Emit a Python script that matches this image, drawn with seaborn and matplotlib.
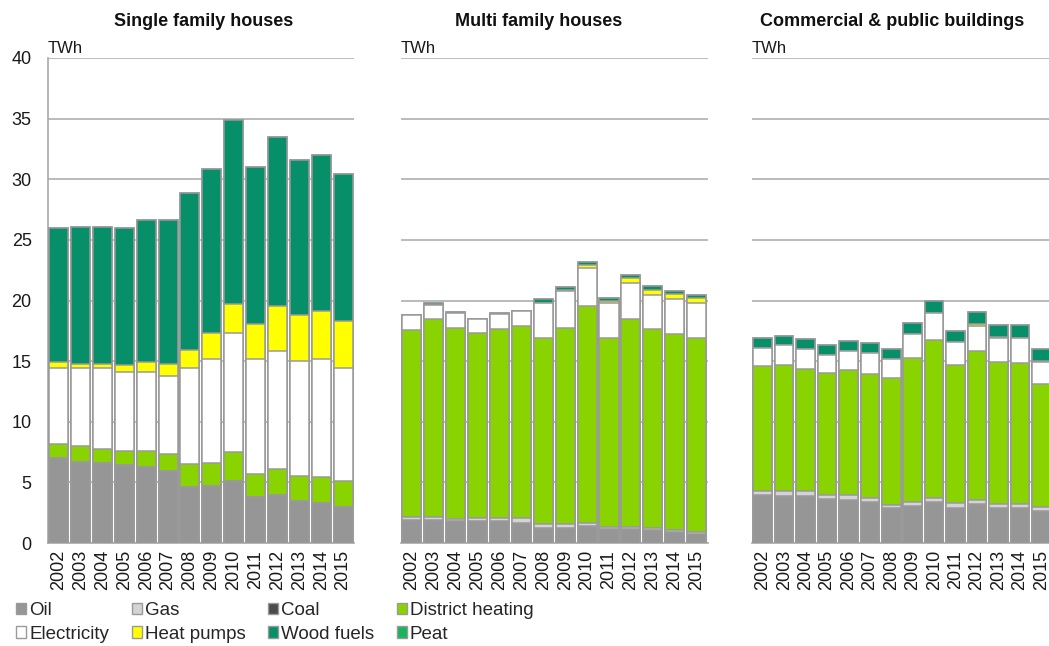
import numpy as np
import pandas as pd
import matplotlib
matplotlib.use("Agg")
import matplotlib.pyplot as plt
from matplotlib.patches import Patch
import seaborn as sns

# ---------------------------
# Data (TWh)
# ---------------------------
years = [str(y) for y in range(2002, 2016)]

# Single family houses
sfh_oil = [7.0, 6.7, 6.6, 6.4, 6.3, 5.95, 4.6, 4.7, 5.1, 3.8, 4.0, 3.5, 3.3, 3.0]
sfh_gas = [0.0] * 14
sfh_coal = [0.0] * 14
sfh_dh = [1.15, 1.28, 1.19, 1.17, 1.27, 1.4, 1.88, 1.88, 2.39, 1.86, 2.09, 2.05, 2.14, 2.11]
sfh_elec = [6.3, 6.47, 6.61, 6.56, 6.56, 6.45, 7.97, 8.56, 9.86, 9.48, 9.78, 9.5, 9.7, 9.34]
sfh_hp = [0.5, 0.35, 0.4, 0.54, 0.82, 1.0, 1.48, 2.16, 2.4, 2.95, 3.67, 3.72, 3.96, 3.83]
sfh_wood = [11.05, 11.3, 11.3, 11.33, 11.73, 11.88, 12.92, 13.58, 15.17, 12.9, 13.98, 12.83, 12.93, 12.19]
sfh_peat = [0.0] * 14

# Multi family houses
mfh_oil = [1.92, 1.92, 1.8, 1.8, 1.8, 1.67, 1.26, 1.26, 1.37, 1.12, 1.12, 1.04, 0.88, 0.77]
mfh_gas = [0.22, 0.22, 0.2, 0.23, 0.23, 0.36, 0.27, 0.27, 0.27, 0.2, 0.2, 0.16, 0.19, 0.16]
mfh_coal = [0.0] * 14
mfh_dh = [15.39, 16.3, 15.75, 15.29, 15.61, 15.83, 15.35, 16.22, 17.92, 15.56, 17.12, 16.47, 16.13, 15.95]
mfh_elec = [1.24, 1.23, 1.24, 1.12, 1.24, 1.24, 2.9, 3.04, 3.15, 2.9, 3.04, 2.8, 2.91, 2.9]
mfh_hp = [0, 0, 0, 0, 0, 0, 0.05, 0.05, 0.2, 0.15, 0.35, 0.4, 0.4, 0.4]
mfh_wood = [0.05, 0.1, 0.1, 0.06, 0.1, 0.05, 0.3, 0.3, 0.3, 0.3, 0.25, 0.3, 0.3, 0.3]
mfh_peat = [0.0] * 14

# Commercial & public buildings
cpb_oil = [4.0, 3.89, 3.89, 3.64, 3.53, 3.42, 2.88, 3.07, 3.42, 2.88, 3.2, 2.88, 2.88, 2.66]
cpb_gas = [0.3, 0.36, 0.36, 0.36, 0.47, 0.31, 0.22, 0.35, 0.31, 0.44, 0.33, 0.3, 0.3, 0.27]
cpb_coal = [0.0] * 14
cpb_dh = [10.3, 10.46, 10.13, 10.03, 10.27, 10.19, 10.49, 11.87, 13.04, 11.36, 12.31, 11.78, 11.64, 10.19]
cpb_elec = [1.45, 1.59, 1.59, 1.47, 1.59, 1.72, 1.56, 1.94, 2.16, 1.87, 2.05, 1.92, 2.06, 1.78]
cpb_hp = [0, 0, 0, 0, 0, 0, 0, 0, 0, 0, 0.15, 0.12, 0, 0.12]
cpb_wood = [0.85, 0.74, 0.82, 0.86, 0.82, 0.83, 0.88, 0.93, 0.99, 0.9, 1.0, 0.95, 1.07, 0.95]
cpb_peat = [0.0] * 14

sources = ["Oil", "Gas", "Coal", "District heating", "Electricity",
           "Heat pumps", "Wood fuels", "Peat"]
colors = ["#969696", "#d4d4d4", "#4a4a4a", "#88d300", "#ffffff",
          "#ffff00", "#068f68", "#19b45c"]

panels = [
    ("Single family houses",
     [sfh_oil, sfh_gas, sfh_coal, sfh_dh, sfh_elec, sfh_hp, sfh_wood, sfh_peat]),
    ("Multi family houses",
     [mfh_oil, mfh_gas, mfh_coal, mfh_dh, mfh_elec, mfh_hp, mfh_wood, mfh_peat]),
    ("Commercial & public buildings",
     [cpb_oil, cpb_gas, cpb_coal, cpb_dh, cpb_elec, cpb_hp, cpb_wood, cpb_peat]),
]

# ---------------------------
# Figure setup
# ---------------------------
sns.set_theme(style="white")
plt.rcParams["font.family"] = ["Liberation Sans", "DejaVu Sans"]

W, H = 1049, 646
fig = plt.figure(figsize=(W / 100, H / 100), dpi=100)

grid_col = "#a8a8a8"
edge_col = "#9a9a9a"

# left px, width px, title x (axes fraction)
boxes = [(47.7, 306.3, 0.509), (400.7, 307.0, 0.45), (752.0, 300.0, 0.467)]
bottom_px, top_px = 543, 58

for i, ((title, layers), (left, width, tx)) in enumerate(zip(panels, boxes)):
    ax = fig.add_axes([left / W, (H - bottom_px) / H, width / W, (bottom_px - top_px) / H])

    # stacked bars: draw cumulative totals from the top layer downward
    cum = np.cumsum(np.array(layers, dtype=float), axis=0)
    for k in range(len(sources) - 1, -1, -1):
        df = pd.DataFrame({"year": years, "value": cum[k]})
        sns.barplot(data=df, x="year", y="value", color=colors[k], saturation=1,
                    width=0.87, edgecolor=edge_col, linewidth=1.1,
                    errorbar=None, ax=ax, zorder=3)

    ax.set_ylim(0, 40)
    ax.set_xlim(-0.5, 13.5)
    ax.set_yticks(np.arange(0, 41, 5))
    ax.yaxis.grid(True, color=grid_col, linewidth=1.1, zorder=0)
    ax.set_axisbelow(True)
    ax.set_xlabel("")
    ax.set_ylabel("")

    for s in ["top", "right"]:
        ax.spines[s].set_visible(False)
    ax.spines["bottom"].set_color(grid_col)
    ax.spines["bottom"].set_linewidth(1.2)
    if i == 0:
        ax.spines["left"].set_color(grid_col)
        ax.spines["left"].set_linewidth(1.2)
        ax.tick_params(axis="y", length=4.5, color=grid_col, labelsize=13, pad=7,
                       labelcolor="#1a1a1a")
    else:
        ax.spines["left"].set_visible(False)
        ax.tick_params(axis="y", length=0, labelleft=False)

    # x tick marks between bars
    ax.set_xticks(np.arange(-0.5, 14, 1), minor=True)
    ax.tick_params(axis="x", which="minor", length=5, color=grid_col, width=1.2)
    ax.tick_params(axis="x", which="major", length=0, labelsize=13, pad=5,
                   labelcolor="#1a1a1a", labelrotation=90)

    ax.text(0.0, 1.004, "TWh", transform=ax.transAxes, ha="left", va="bottom",
            fontsize=12, color="#1a1a1a")
    ax.set_title(title, x=tx, pad=23, fontsize=13, fontweight="bold", color="#111111")

# Legend
handles = [Patch(facecolor=c, edgecolor=edge_col, linewidth=1) for c in colors]
order = [0, 4, 1, 5, 2, 6, 3, 7]
fig.legend([handles[j] for j in order], [sources[j] for j in order],
           ncol=4, loc="upper left", bbox_to_anchor=(16 / W, 1 - 602 / H),
           frameon=False, fontsize=13.5, handlelength=0.55, handleheight=0.55,
           handletextpad=0.15, columnspacing=1.2, labelspacing=0.35,
           borderpad=0, borderaxespad=0)

fig.savefig("out.png", dpi=100)
